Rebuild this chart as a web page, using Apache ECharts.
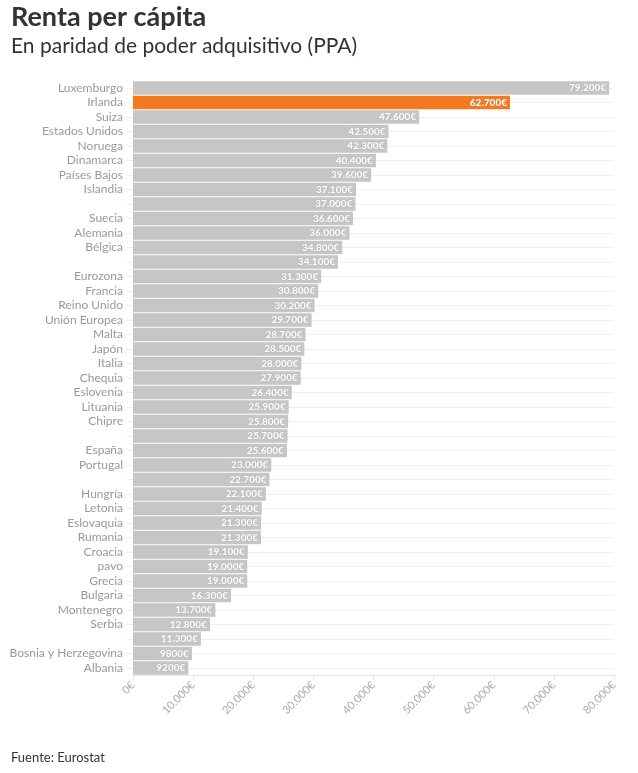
<!DOCTYPE html>
<html><head><meta charset="utf-8">
<script src="https://cdn.jsdelivr.net/npm/echarts@6/dist/echarts.min.js"></script>
<style>html,body{margin:0;padding:0;background:#fff;}#c{width:638px;height:773px;}</style>
</head><body><div id="c"></div>
<script>
const categories = ["Luxemburgo","Irlanda","Suiza","Estados Unidos","Noruega","Dinamarca","Países Bajos","Islandia","","Suecia","Alemania","Bélgica","","Eurozona","Francia","Reino Unido","Unión Europea","Malta","Japón","Italia","Chequia","Eslovenia","Lituania","Chipre","","España","Portugal","","Hungría","Letonia","Eslovaquia","Rumania","Croacia","pavo","Grecia","Bulgaria","Montenegro","Serbia","","Bosnia y Herzegovina","Albania"];
const values = [79200,62700,47600,42500,42300,40400,39600,37100,37000,36600,36000,34800,34100,31300,30800,30200,29700,28700,28500,28000,27900,26400,25900,25800,25700,25600,23000,22700,22100,21400,21300,21300,19100,19000,19000,16300,13700,12800,11300,9800,9200];
const xTicks = [0,10000,20000,30000,40000,50000,60000,70000,80000];
const highlight = "Irlanda";

function fmt(v){
  if (v >= 10000) { const s = String(v); return s.slice(0, s.length-3) + "." + s.slice(-3) + "€"; }
  return v + "€";
}
const FONT = "Lato";
const chart = echarts.init(document.getElementById('c'), null, {renderer:'canvas'});
chart.setOption({
  animation:false,
  backgroundColor:'#fff',
  title:[
    {text:'Renta per cápita', left:11, top:4, padding:0, textStyle:{fontFamily:FONT, fontWeight:'bold', fontSize:27, color:'#333'}},
    {text:'En paridad de poder adquisitivo (PPA)', left:11, top:36, padding:0, textStyle:{fontFamily:FONT, fontWeight:'normal', fontSize:21, color:'#333'}},
    {text:'Fuente: Eurostat', left:11, top:751, padding:0, textStyle:{fontFamily:FONT, fontWeight:'normal', fontSize:13, color:'#333'}}
  ],
  grid:{left:133, right:24, top:80.75, bottom:97.75, containLabel:false},
  xAxis:{type:'value', min:0, max:80000, interval:10000,
    axisLine:{show:true, lineStyle:{color:'#e6e6e6'}},
    axisTick:{show:true, length:5, lineStyle:{color:'#e6e6e6'}},
    splitLine:{show:false},
    axisLabel:{rotate:45, color:'#aaa', fontFamily:FONT, fontSize:11, margin:8, formatter:v=>fmt(v)}
  },
  yAxis:{type:'category', inverse:true, data:categories,
    axisLine:{show:false},
    axisTick:{show:true, alignWithLabel:true, interval:0, length:6, lineStyle:{color:'#eee'}},
    axisLabel:{interval:0, color:'#999', fontFamily:FONT, fontSize:12, margin:10}
  },
  series:[
    {type:'scatter', data:[], z:1, silent:true,
     markLine:{z:1, silent:true, symbol:['none','none'], animation:false, label:{show:false},
       lineStyle:{color:'#eee', type:'solid', width:1},
       data: categories.map((c,i)=>({yAxis:i}))}},
    {type:'bar', z:3, barCategoryGap:'8%',
     data: values.map((v,i)=>({value:v, itemStyle:{color: categories[i]===highlight ? '#f47a1f' : '#c6c6c6'}})),
     label:{show:true, position:'insideRight', distance:3, color:'#fff', fontFamily:FONT, fontWeight:900, fontSize:10,
       textShadowColor:'rgba(0,0,0,0.25)', textShadowBlur:1,
       formatter:p=>fmt(p.value)}
    }
  ]
});
</script></body></html>
